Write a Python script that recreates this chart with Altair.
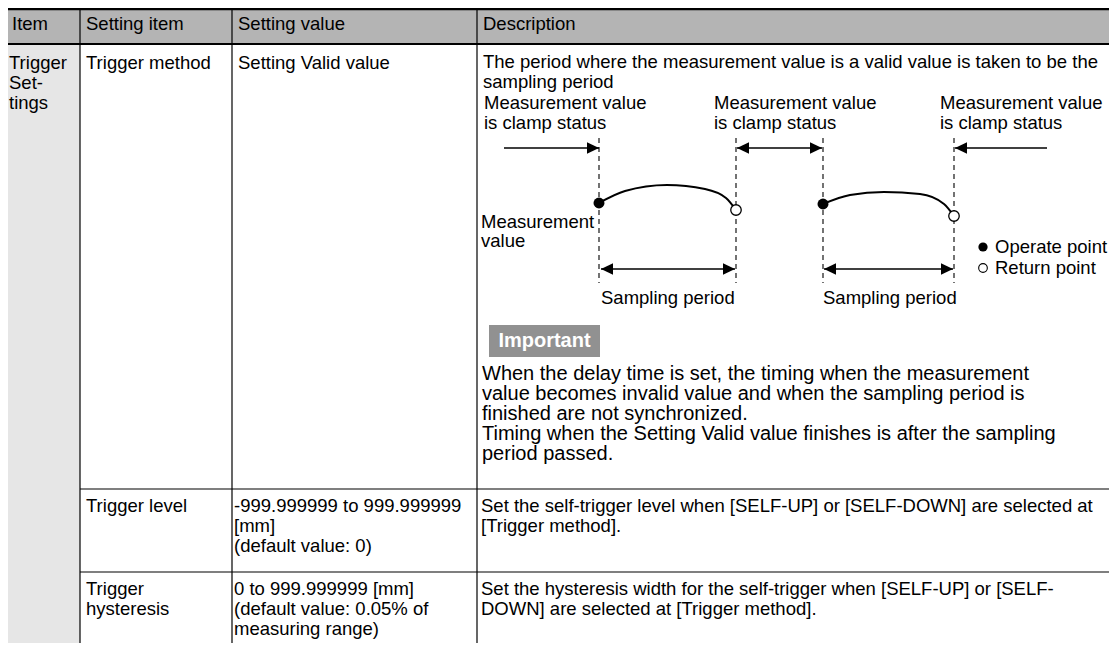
import altair as alt
import pandas as pd

# ---------------- table text ----------------
HEADERS = ["Item", "Setting item", "Setting value", "Description"]
ITEM_LINES = ["Trigger", "Set-", "tings"]
SETTING_ITEMS = [["Trigger method"], ["Trigger level"], ["Trigger", "hysteresis"]]
SETTING_VALUES = [
    ["Setting Valid value"],
    ["-999.999999 to 999.999999", "[mm]", "(default value: 0)"],
    ["0 to 999.999999 [mm]", "(default value: 0.05% of", "measuring range)"],
]
DESC_INTRO = [
    "The period where the measurement value is a valid value is taken to be the",
    "sampling period",
]
DESC_ROW2 = [
    "Set the self-trigger level when [SELF-UP] or [SELF-DOWN] are selected at",
    "[Trigger method].",
]
DESC_ROW3 = [
    "Set the hysteresis width for the self-trigger when [SELF-UP] or [SELF-",
    "DOWN] are selected at [Trigger method].",
]
IMPORTANT_TITLE = ["Important"]
IMPORTANT_LINES = [
    "When the delay time is set, the timing when the measurement",
    "value becomes invalid value and when the sampling period is",
    "finished are not synchronized.",
    "Timing when the Setting Valid value finishes is after the sampling",
    "period passed.",
]
CLAMP_LABEL = ["Measurement value", "is clamp status"]
MV_LABEL = ["Measurement", "value"]
LEGEND_LABELS = ["Operate point", "Return point"]
SAMPLING_LABEL = "Sampling period"

# ---------------- layout (pixels) ----------------
X0, X1, Y0, Y1 = 8, 1109, 8, 643
COL_EDGES = [8, 80, 232, 477, 1109]
HEADER_BOTTOM = 44
TOP_BORDER = 9
ROW_LINES = [489, 572]
HEADER_TEXT_X = [12, 86, 238, 483]
HEADER_TEXT_Y = 24
ROW_TEXT_Y = [63, 506, 589]
ITEM_TEXT_X = 9
SETITEM_TEXT_X = 86
SETVAL_TEXT_X = [238, 234, 234]
DESC_TEXT_X = [483, 481, 481]
LINE_STEP = 20

CLAMP_X = [484, 714, 940]
CLAMP_Y = [103, 123]
MV_XY = (481, [222, 241])
LEGEND_TEXT_X = 995
LEGEND_Y = [247, 268]
LEGEND_DOT_X = 983
SAMPLING_X = [601, 823]
SAMPLING_Y = 298
IMPORTANT_BOX = (489, 600, 325, 357)
IMPORTANT_LINE_Y = [374, 394, 414, 434, 454]

DASH_X = [599, 736, 823, 954]
DASH_Y = (138, 283)
TOP_ARROW_Y = 148
TOP_SEGMENTS = [(504, 599), (737, 822), (955, 1047)]
TOP_RIGHT_TIPS = [599, 822]
TOP_LEFT_TIPS = [737, 955]
SAMPLE_ARROW_Y = 269
SAMPLE_SEGMENTS = [(601, 735), (824, 953)]
SAMPLE_LEFT_TIPS = [601, 824]
SAMPLE_RIGHT_TIPS = [735, 953]

CURVE1_X = [599, 625, 667, 705, 726, 736]
CURVE1_Y = [203, 191, 185, 189, 198, 210]
CURVE2_X = [823, 850, 884, 920, 944, 954]
CURVE2_Y = [204, 195, 192, 194, 204, 216]
OPERATE_PTS = [(599, 203), (823, 204)]
RETURN_PTS = [(736, 210), (954, 216)]

FONT = "Liberation Sans, Arial, Helvetica, sans-serif"

xs = alt.Scale(domain=[X0, X1], nice=False, zero=False)
ys = alt.Scale(domain=[Y0, Y1], nice=False, zero=False, reverse=True)


def X(f="x"):
    return alt.X(f + ":Q", scale=xs, axis=None)


def Y(f="y"):
    return alt.Y(f + ":Q", scale=ys, axis=None)


def text_layer(rows, size=18.5, color="black", weight="normal", align="left"):
    df = pd.DataFrame(rows, columns=["x", "y", "text"])
    return alt.Chart(df).mark_text(
        align=align, baseline="middle", font=FONT, fontSize=size,
        color=color, fontWeight=weight
    ).encode(x=X(), y=Y(), text="text:N")


# ---------- background rects ----------
rects = pd.DataFrame([
    {"x": X0, "x2": X1, "y": Y0, "y2": HEADER_BOTTOM, "c": "#b4b4b4"},
    {"x": X0, "x2": COL_EDGES[1], "y": HEADER_BOTTOM, "y2": Y1, "c": "#e6e6e6"},
    {"x": IMPORTANT_BOX[0], "x2": IMPORTANT_BOX[1], "y": IMPORTANT_BOX[2], "y2": IMPORTANT_BOX[3], "c": "#919191"},
])
rect_layer = alt.Chart(rects).mark_rect().encode(
    x=X(), x2="x2:Q", y=Y(), y2="y2:Q", color=alt.Color("c:N", scale=None)
)

# ---------- table lines ----------
hlines = pd.DataFrame(
    [{"x": X0, "x2": X1, "y": TOP_BORDER, "w": 2.6},
     {"x": X0, "x2": X1, "y": HEADER_BOTTOM, "w": 2.2}]
    + [{"x": COL_EDGES[1], "x2": X1, "y": r, "w": 1.2} for r in ROW_LINES]
)
hline_layer = alt.Chart(hlines).mark_rule(color="black").encode(
    x=X(), x2="x2:Q", y=Y(), strokeWidth=alt.StrokeWidth("w:Q", scale=None)
)
vlines = pd.DataFrame([{"x": c, "y": Y0, "y2": Y1} for c in COL_EDGES[1:4]])
vline_layer = alt.Chart(vlines).mark_rule(color="black", strokeWidth=1.2).encode(
    x=X(), y=Y(), y2="y2:Q"
)

# ---------- texts ----------
body = []
for tx, t in zip(HEADER_TEXT_X, HEADERS):
    body.append((tx, HEADER_TEXT_Y, t))
for i, t in enumerate(ITEM_LINES):
    body.append((ITEM_TEXT_X, ROW_TEXT_Y[0] + i * LINE_STEP, t))
for r, lines in enumerate(SETTING_ITEMS):
    for i, t in enumerate(lines):
        body.append((SETITEM_TEXT_X, ROW_TEXT_Y[r] + i * LINE_STEP, t))
for r, lines in enumerate(SETTING_VALUES):
    for i, t in enumerate(lines):
        body.append((SETVAL_TEXT_X[r], ROW_TEXT_Y[r] + i * LINE_STEP, t))
for r, lines in enumerate([DESC_INTRO, DESC_ROW2, DESC_ROW3]):
    for i, t in enumerate(lines):
        body.append((DESC_TEXT_X[r], ROW_TEXT_Y[r] - (1 if r == 0 else 0) + i * LINE_STEP, t))
for cx in CLAMP_X:
    for cy, t in zip(CLAMP_Y, CLAMP_LABEL):
        body.append((cx, cy, t))
for my, t in zip(MV_XY[1], MV_LABEL):
    body.append((MV_XY[0], my, t))
for ly, t in zip(LEGEND_Y, LEGEND_LABELS):
    body.append((LEGEND_TEXT_X, ly, t))
for sx in SAMPLING_X:
    body.append((sx, SAMPLING_Y, SAMPLING_LABEL))
body_layer = text_layer(body)

imp_layer = text_layer(
    [(482, y, t) for y, t in zip(IMPORTANT_LINE_Y, IMPORTANT_LINES)], size=20
)
imp_title = text_layer(
    [((IMPORTANT_BOX[0] + IMPORTANT_BOX[1]) / 2, (IMPORTANT_BOX[2] + IMPORTANT_BOX[3]) / 2,
      IMPORTANT_TITLE[0])],
    size=20, color="white", weight="bold", align="center",
)

# ---------- diagram ----------
dash_df = pd.DataFrame([{"x": d, "y": DASH_Y[0], "y2": DASH_Y[1]} for d in DASH_X])
dash_layer = alt.Chart(dash_df).mark_rule(
    color="black", strokeWidth=1.1, strokeDash=[5, 4]
).encode(x=X(), y=Y(), y2="y2:Q")

seg_df = pd.DataFrame(
    [{"x": a, "x2": b, "y": TOP_ARROW_Y} for a, b in TOP_SEGMENTS]
    + [{"x": a, "x2": b, "y": SAMPLE_ARROW_Y} for a, b in SAMPLE_SEGMENTS]
)
seg_layer = alt.Chart(seg_df).mark_rule(color="black", strokeWidth=1.6).encode(
    x=X(), x2="x2:Q", y=Y()
)

right_tips = pd.DataFrame(
    [{"x": t, "y": TOP_ARROW_Y} for t in TOP_RIGHT_TIPS]
    + [{"x": t, "y": SAMPLE_ARROW_Y} for t in SAMPLE_RIGHT_TIPS]
)
left_tips = pd.DataFrame(
    [{"x": t, "y": TOP_ARROW_Y} for t in TOP_LEFT_TIPS]
    + [{"x": t, "y": SAMPLE_ARROW_Y} for t in SAMPLE_LEFT_TIPS]
)
rhead = alt.Chart(right_tips).mark_point(
    shape="M0,0L-2,-0.95L-2,0.95Z", filled=True, size=144, color="black", opacity=1
).encode(x=X(), y=Y())
lhead = alt.Chart(left_tips).mark_point(
    shape="M0,0L2,-0.95L2,0.95Z", filled=True, size=144, color="black", opacity=1
).encode(x=X(), y=Y())

curve_df = pd.DataFrame(
    [{"x": x, "y": y, "c": "a", "o": i} for i, (x, y) in enumerate(zip(CURVE1_X, CURVE1_Y))]
    + [{"x": x, "y": y, "c": "b", "o": i} for i, (x, y) in enumerate(zip(CURVE2_X, CURVE2_Y))]
)
curve_layer = alt.Chart(curve_df).mark_line(
    color="black", strokeWidth=2, interpolate="monotone"
).encode(x=X(), y=Y(), detail="c:N", order="o:Q")

op_df = pd.DataFrame([{"x": x, "y": y} for x, y in OPERATE_PTS])
op_layer = alt.Chart(op_df).mark_point(
    shape="circle", filled=True, size=120, color="black", opacity=1
).encode(x=X(), y=Y())
rp_df = pd.DataFrame([{"x": x, "y": y} for x, y in RETURN_PTS])
rp_layer = alt.Chart(rp_df).mark_point(
    shape="circle", filled=True, size=110, fill="white", stroke="black",
    strokeWidth=1.3, opacity=1
).encode(x=X(), y=Y())

leg_op = alt.Chart(pd.DataFrame([{"x": LEGEND_DOT_X, "y": LEGEND_Y[0]}])).mark_point(
    shape="circle", filled=True, size=85, color="black", opacity=1
).encode(x=X(), y=Y())
leg_rp = alt.Chart(pd.DataFrame([{"x": LEGEND_DOT_X, "y": LEGEND_Y[1]}])).mark_point(
    shape="circle", filled=True, size=75, fill="white", stroke="black",
    strokeWidth=1.1, opacity=1
).encode(x=X(), y=Y())

chart = alt.layer(
    rect_layer, hline_layer, vline_layer,
    dash_layer, seg_layer, rhead, lhead, curve_layer, op_layer, rp_layer,
    leg_op, leg_rp,
    body_layer, imp_layer, imp_title,
).properties(
    width=X1 - X0, height=Y1 - Y0, padding=0,
    autosize=alt.AutoSizeParams(type="none"),
    background="white",
).configure_view(strokeWidth=0)

chart.save("out.html", embed_options={"renderer": "svg", "actions": False})
